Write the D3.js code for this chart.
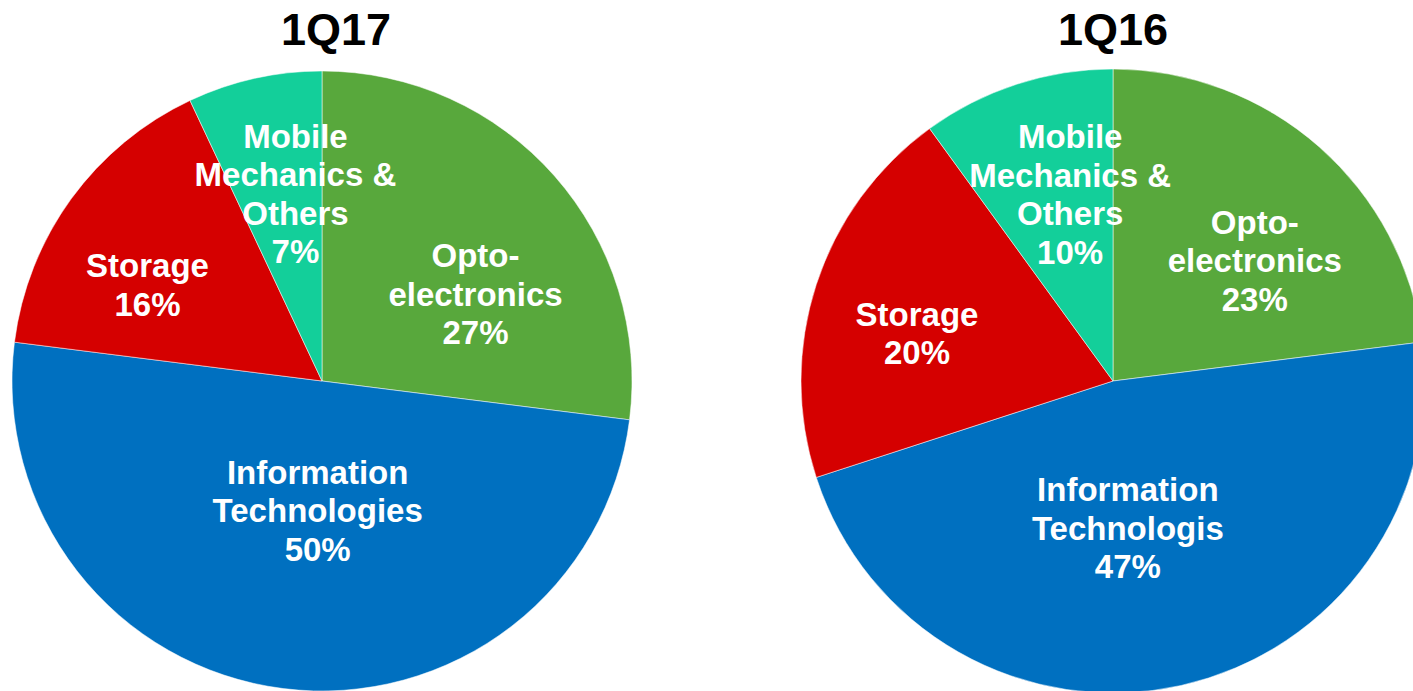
<!DOCTYPE html>
<html>
<head>
<meta charset="utf-8">
<script src="https://cdn.jsdelivr.net/npm/d3@7"></script>
<style>
  body { margin: 0; background: #fff; }
  svg { display: block; font-family: "Liberation Sans", Arial, sans-serif; }
</style>
</head>
<body>
<div id="chart"></div>
<script>
// segment data, clockwise from 12 o'clock
const segments = ["Opto", "IT", "Storage", "Mobile"];
const values1Q17 = [27, 50, 16, 7];
const values1Q16 = [23, 47, 20, 10];
const labels1Q17 = [["Opto-", "electronics"], ["Information", "Technologies"], ["Storage"], ["Mobile", "Mechanics &", "Others"]];
const labels1Q16 = [["Opto-", "electronics"], ["Information", "Technologis"], ["Storage"], ["Mobile", "Mechanics &", "Others"]];
const titles = ["1Q17", "1Q16"];

const width = 1413, height = 691;

const colour = d3.scaleOrdinal()
  .domain(segments)
  .range(["#58a83c", "#0070c0", "#d50000", "#13cf9a"]);

// pie layout and label nudges (px from the 0.6r centroid)
const pies = [
  { title: titles[0], values: values1Q17, labels: labels1Q17, cx: 322, cy: 381, r: 310,
    nudge: [[14, 36], [19, -55], [-24, 13], [14, -6]] },
  { title: titles[1], values: values1Q16, labels: labels1Q16, cx: 1113, cy: 381, r: 312,
    nudge: [[18, 20], [-26, -36], [-18, 10], [15, -9]] }
];

const svg = d3.select("#chart")
  .append("svg")
  .attr("width", width)
  .attr("height", height)
  .attr("viewBox", [0, 0, width, height]);

const pie = d3.pie().sort(null).value(d => d.value);

const lineH = 38.5;

for (let p of pies) {
  const data = segments.map((s, i) => ({ key: s, value: p.values[i], lines: p.labels[i] }));
  const arcs = pie(data);
  const arc = d3.arc().innerRadius(0).outerRadius(p.r);
  const labelArc = d3.arc().innerRadius(p.r * 0.6).outerRadius(p.r * 0.6);

  const g = svg.append("g")
    .attr("transform", `translate(${p.cx},${p.cy})`);

  g.selectAll("path")
    .data(arcs)
    .join("path")
    .attr("d", arc)
    .attr("fill", d => colour(d.data.key))
    .attr("stroke", "rgba(255,255,255,0.5)")
    .attr("stroke-width", 1);

  const lbl = g.selectAll("text.lbl")
    .data(arcs)
    .join("text")
    .attr("class", "lbl")
    .attr("text-anchor", "middle")
    .attr("fill", "#fff")
    .attr("font-weight", "bold")
    .attr("font-size", 33)
    .attr("transform", (d, i) => {
      const [x, y] = labelArc.centroid(d);
      return `translate(${x + p.nudge[i][0]},${y + p.nudge[i][1]})`;
    });

  lbl.each(function(d) {
    const lines = d.data.lines.concat([d.data.value + "%"]);
    const top = -(lines.length - 1) * lineH / 2;
    d3.select(this).selectAll("tspan")
      .data(lines)
      .join("tspan")
      .attr("x", 0)
      .attr("y", (t, j) => top + j * lineH)
      .attr("dy", "0.36em")
      .text(t => t);
  });

  svg.append("text")
    .attr("x", p.cx + (p === pies[0] ? 14 : 0))
    .attr("y", 45)
    .attr("text-anchor", "middle")
    .attr("font-weight", "bold")
    .attr("font-size", 45)
    .attr("fill", "#000")
    .text(p.title);
}
</script>
</body>
</html>
